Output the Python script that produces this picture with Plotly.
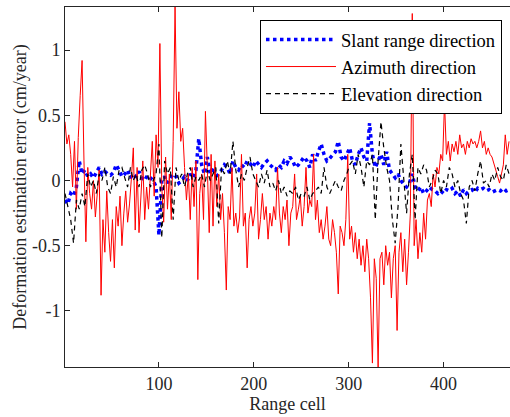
import plotly.graph_objects as go

# ---- data ----
azimuth_x = list(range(1, 470, 2))
azimuth_y = [
    0.45, 0.28, 0.35, 0.2, -0.05, 0.3, -0.22, 0.33, 0.65, 0.92,
    0.15, -0.47, 0.1, -0.1, -0.22, 0.0, -0.28, -0.12, 0.08, -0.88,
    -0.3, -0.55, -0.08, -0.4, -0.62, -0.3, -0.67, -0.2, -0.35, -0.12,
    -0.5, -0.25, -0.08, -0.32, -0.18, 0.02, 0.25, -0.38, 0.1, -0.4,
    -0.12, 0.15, -0.3, -0.05, -0.22, 0.05, 0.3, -0.12, 0.35, 0.1,
    1.05, -0.05, -0.32, 0.18, -0.22, 0.05, -0.3, 0.3, 1.33, 0.4,
    0.68, 0.3, 0.4, 0.1, -0.15, 0.05, -0.3, 0.1, -0.2, 0.15,
    -0.76, -0.1, 0.05, -0.3, 0.53, 0.1, -0.4, 0.2, -0.35, 0.15,
    -0.2, 0.05, -0.3, -0.1, -0.4, -0.84, -0.2, -0.3, 0.1, -0.35,
    -0.25, -0.4, -0.28, 0.2, -0.35, -0.25, -0.67, -0.3, -0.2, -0.35,
    -0.25, 0.05, -0.45, -0.3, -0.1, -0.3, -0.2, -0.45, -0.25, -0.35,
    -0.2, -0.3, 0.1, -0.25, -0.4, -0.2, -0.3, -0.15, -0.5, -0.25,
    -0.2, 0.05, -0.3, -0.22, -0.12, -0.35, -0.2, 0.1, -0.25, -0.15,
    -0.2, 0.2, -0.3, -0.15, -0.4, -0.3, -0.45, -0.35, -0.2, -0.45,
    -0.5, -0.3, -0.4, -0.55, -0.87, -0.35, -0.4, -0.5, -0.3, 0.2,
    -0.45, -0.35, -0.55, -0.4, -0.6, -0.45, -0.65, -0.5, -0.7, -0.45,
    -0.6, -0.9, -1.4, -0.6, -0.75, -1.43, -0.6, -0.55, -0.8, -0.5,
    -0.65, -0.55, -0.9, -0.6, -0.5, -1.15, -0.55, -0.4, -0.7, -0.45,
    -0.8, -0.55, -0.25, 1.28, -0.5, -0.3, -0.6, -0.4, -0.55, -0.25,
    -0.45, -0.15, -0.1, -0.2, 0.05, -0.05, 0.1, 0.05, 0.2, 0.15,
    0.6, 0.2, 0.3, 0.15, 0.28, 0.22, 0.3, 0.2, 0.35, 0.25,
    0.28, 0.2, 0.3, 0.25, 0.32, 0.28, 0.3, 0.25, 0.3, 0.38,
    0.25, 0.3, 0.2, 0.25, 0.2, 0.18, 0.12, 0.08, 0.03, -0.02,
    0.05, 0.12, 0.35, 0.2, 0.3,
]

slant_x = list(range(1, 470, 3))
slant_y = [
    -0.15, -0.18, -0.1, -0.12, -0.05, 0.15, 0.05, 0.08, 0.03, 0.05,
    0.02, 0.06, 0.1, 0.05, 0.07, 0.05, 0.04, 0.06, 0.12, 0.08,
    0.03, 0.05, 0.08, 0.02, 0.05, 0.03, 0.07, 0.02, 0.0, 0.04,
    0.02, 0.0, -0.05, -0.42, 0.0, 0.03, -0.02, 0.02, 0.05, 0.03,
    -0.02, 0.0, 0.03, 0.0, 0.05, 0.02, 0.08, 0.32, 0.12, 0.05,
    0.18, 0.05, 0.1, 0.03, 0.05, 0.08, 0.12, 0.1, 0.05, 0.15,
    0.1, 0.08, 0.12, 0.1, 0.15, 0.13, 0.1, 0.15, 0.12, 0.1,
    0.13, 0.15, 0.12, 0.1, 0.08, 0.12, 0.1, 0.15, 0.13, 0.18,
    0.15, 0.1, 0.12, 0.15, 0.18, 0.15, 0.1, 0.2, 0.15, 0.22,
    0.28, 0.2, 0.15, 0.17, 0.2, 0.22, 0.3, 0.18, 0.15, 0.2,
    0.25, 0.15, 0.12, 0.2, 0.25, 0.18, 0.15, 0.44, 0.2, 0.1,
    0.15, 0.2, 0.12, 0.22, 0.08, 0.05, 0.02, 0.05, 0.0, -0.03,
    -0.05, -0.02, 0.05, -0.05, -0.08, -0.05, -0.1, -0.08, -0.05, -0.07,
    -0.08, -0.1, -0.08, -0.1, -0.07, -0.08, -0.06, -0.1, -0.08, -0.12,
    -0.07, -0.1, -0.08, -0.07, -0.09, -0.06, -0.07, -0.06, -0.08, -0.07,
    -0.09, -0.08, -0.07, -0.08, -0.06, -0.08, -0.07,
]

elevation_x = list(range(1, 470, 3))
elevation_y = [
    -0.1, -0.2, -0.3, -0.48, -0.15, -0.22, -0.1, -0.2, 0.05, -0.05,
    0.0, -0.1, 0.05, 0.0, 0.1, -0.05, -0.1, 0.03, -0.05, 0.08,
    0.1, 0.02, -0.05, 0.1, 0.0, 0.05, -0.05, 0.08, 0.12, 0.05,
    -0.05, 0.0, 0.05, 0.28, -0.44, 0.15, 0.05, 0.1, -0.3, 0.1,
    0.0, 0.05, -0.05, 0.05, 0.1, -0.05, 0.03, 0.0, 0.05, -0.05,
    0.08, 0.0, 0.05, 0.1, -0.33, 0.1, 0.05, 0.15, 0.05, 0.3,
    0.08, -0.05, 0.05, 0.0, 0.1, 0.18, 0.05, 0.0, -0.05, 0.05,
    -0.02, 0.08, -0.05, -0.02, -0.08, 0.0, -0.1, -0.05, -0.12, -0.08,
    -0.1, -0.05, -0.15, -0.1, -0.12, -0.05, -0.15, -0.1, -0.08, -0.05,
    -0.1, 0.1, -0.05, -0.1, -0.05, 0.0, -0.05, -0.08, 0.0, 0.05,
    0.12, 0.15, 0.05, 0.2, 0.1, -0.05, 0.15, 0.12, 0.2, -0.3,
    0.15, 0.45, 0.25, 0.1, 0.0, -0.3, -0.48, -0.2, 0.28, 0.0,
    -0.25, 0.05, 0.2, -0.3, 0.1, 0.05, 0.12, 0.08, -0.05, 0.0,
    0.08, 0.05, -0.1, 0.0, -0.05, 0.1, 0.05, -0.05, 0.0, -0.1,
    -0.15, -0.33, -0.05, 0.0, -0.08, 0.05, 0.15, -0.02, 0.0, -0.05,
    0.05, 0.0, 0.1, 0.03, 0.0, 0.12, 0.05,
]

series_names = ["Slant range direction", "Azimuth direction", "Elevation direction"]
x_tickvals = [100, 200, 300, 400]
y_tickvals = [-1, -0.5, 0, 0.5, 1]
y_ticktext = ["-1", "-0.5", "0", "0.5", "1"]

FONT = "Liberation Serif, Times New Roman, serif"
AX = "#262626"

fig = go.Figure()
fig.add_trace(go.Scatter(x=slant_x, y=slant_y, mode="lines", name=series_names[0],
                         line=dict(color="rgb(0,0,255)", width=3.5, dash="dot")))
fig.add_trace(go.Scatter(x=azimuth_x, y=azimuth_y, mode="lines", name=series_names[1],
                         line=dict(color="rgb(255,0,0)", width=1)))
fig.add_trace(go.Scatter(x=elevation_x, y=elevation_y, mode="lines", name=series_names[2],
                         line=dict(color="black", width=1.2, dash="5px,4px")))

fig.update_layout(
    width=510, height=417,
    margin=dict(l=65, r=0, t=7, b=50),
    paper_bgcolor="white", plot_bgcolor="white",
    font=dict(family=FONT, size=18, color=AX),
    showlegend=True,
    legend=dict(x=0.982, y=0.964, xanchor="right", yanchor="top",
                bgcolor="white", bordercolor="black", borderwidth=1,
                font=dict(family=FONT, size=18.5, color="black"),
                itemwidth=70, tracegroupgap=0),
)
fig.update_xaxes(range=[1, 470], tickvals=x_tickvals, showgrid=False, zeroline=False,
                 showline=True, linecolor=AX, linewidth=1, mirror="ticks",
                 ticks="inside", ticklen=5, tickcolor=AX,
                 title=dict(text="Range cell", standoff=4, font=dict(size=18)))
fig.update_yaxes(range=[-1.43, 1.33], tickvals=y_tickvals, ticktext=y_ticktext,
                 showgrid=False, zeroline=False,
                 showline=True, linecolor=AX, linewidth=1,
                 ticks="inside", ticklen=5, tickcolor=AX,
                 title=dict(text="Deformation estimation error (cm/year)", standoff=0,
                            font=dict(size=18)))

fig.write_html("out.html")
